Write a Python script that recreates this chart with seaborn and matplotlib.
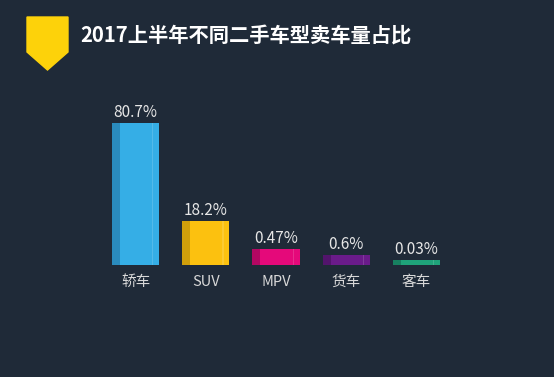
import numpy as np
import pandas as pd
from matplotlib import pyplot as plt
from matplotlib.patches import Rectangle, Polygon
import seaborn as sns

sns.set_style('white')
plt.rcParams['font.family'] = ['Noto Sans CJK SC', 'DejaVu Sans']

# data
types = ['轿车', 'SUV', 'MPV', '货车', '客车']
share_labels = ['80.7%', '18.2%', '0.47%', '0.6%', '0.03%']
# drawn bar heights as shown in the source (not proportional to share)
bar_heights = [142, 44, 16, 10, 5]
colors = ['#35aee6', '#fcc10f', '#e5097a', '#6a1b8a', '#1fa37a']
dark = ['#2a8bbd', '#d09f0b', '#b30762', '#52146c', '#178060']

bg = '#1f2a38'
df = pd.DataFrame({'type': types, 'h': bar_heights})

fig = plt.figure(figsize=(5.54, 3.77), dpi=100, facecolor=bg)
ax = fig.add_axes([100.5 / 554, 112 / 377, 351 / 554, 200 / 377])
ax.set_facecolor(bg)

sns.barplot(data=df, x='type', y='h', hue='type', palette=colors, legend=False,
            width=47 / 70, saturation=1, linewidth=0, edgecolor='none', ax=ax)
ax.set_xlim(-0.5, 4.5)
ax.set_ylim(0, 200)

for i, p in enumerate(ax.patches):
    x0, w, h = p.get_x(), p.get_width(), p.get_height()
    ax.add_patch(Rectangle((x0, 0), w * 8 / 47, h, color=dark[i], lw=0, zorder=3))
    ax.add_patch(Rectangle((x0 + w * 40 / 47, 0), w * 1.2 / 47, h,
                           color='white', alpha=0.15, lw=0, zorder=3))
    ax.text(x0 + w / 2, h + 2, share_labels[i], ha='center', va='bottom',
            color='#e6e6e6', fontsize=11)

ax.set_xlabel('')
ax.set_ylabel('')
ax.set_yticks([])
ax.tick_params(axis='x', length=0, pad=7, colors='#d8d8d8', labelsize=10.5)
for s in ax.spines.values():
    s.set_visible(False)

# title badge
fig.patches.append(Polygon([(27 / 554, 1 - 17 / 377), (68 / 554, 1 - 17 / 377),
                            (68 / 554, 1 - 52 / 377), (47.5 / 554, 1 - 70 / 377),
                            (27 / 554, 1 - 52 / 377)], closed=True,
                           transform=fig.transFigure, color='#fdd20a'))
fig.text(80 / 554, 1 - 35 / 377, '2017上半年不同二手车型卖车量占比', color='white',
         fontsize=14.6, fontweight='bold', va='center', ha='left')

plt.savefig('out.png', dpi=100, facecolor=bg)
